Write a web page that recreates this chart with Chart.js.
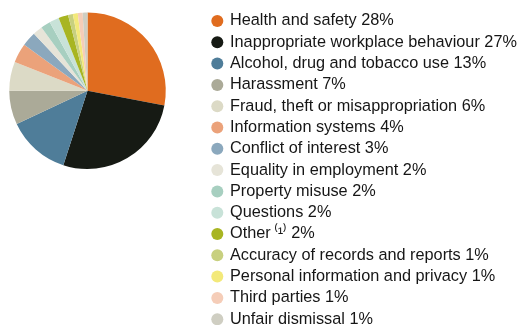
<!DOCTYPE html>
<html>
<head>
<meta charset="utf-8">
<script src="https://cdn.jsdelivr.net/npm/chart.js@4/dist/chart.umd.min.js"></script>
<style>
  html, body { margin: 0; padding: 0; background: #fff; }
  #wrap { width: 522px; height: 325px; position: relative; }
</style>
</head>
<body>
<div id="wrap"><canvas id="casesChart"></canvas></div>
<script>
const categories = [
  'Health and safety',
  'Inappropriate workplace behaviour',
  'Alcohol, drug and tobacco use',
  'Harassment',
  'Fraud, theft or misappropriation',
  'Information systems',
  'Conflict of interest',
  'Equality in employment',
  'Property misuse',
  'Questions',
  'Other\u2009\u207D\u00B9\u207E',
  'Accuracy of records and reports',
  'Personal information and privacy',
  'Third parties',
  'Unfair dismissal'
];
const shares = [28, 27, 13, 7, 6, 4, 3, 2, 2, 2, 2, 1, 1, 1, 1];
const colors = [
  '#e06c1f', '#161a14', '#4f7d99', '#abaa98', '#dcdac6',
  '#eba27a', '#8ba8bd', '#e6e4d8', '#a7cfc0', '#c8e2d8',
  '#a8b522', '#c8d07f', '#f3e97a', '#f5cdb8', '#cfcec2'
];

const labels = categories.map((c, i) => c + ' ' + shares[i] + '%');

// pie sits top-left, legend list to the right of it
const placeParts = {
  id: 'placeParts',
  afterLayout(chart) {
    const area = chart.chartArea;
    area.left = 9;
    area.right = 166;
    area.top = 12.5;
    area.bottom = 169;
    area.width = area.right - area.left;
    area.height = area.bottom - area.top;
    const legend = chart.legend;
    legend.left = 207.75;
    legend.top = 7.85;
    legend.right = chart.width;
    legend.bottom = chart.height + 60;
  }
};

new Chart(document.querySelector('#casesChart'), {
  type: 'pie',
  data: {
    labels: labels,
    datasets: [
      {
        label: 'Cases',
        data: shares,
        backgroundColor: colors,
        borderWidth: 0
      }
    ]
  },
  options: {
    responsive: true,
    maintainAspectRatio: false,
    animation: false,
    layout: { padding: 0 },
    plugins: {
      legend: {
        position: 'right',
        align: 'start',
        labels: {
          usePointStyle: true,
          pointStyle: 'circle',
          boxWidth: 9.1,
          boxHeight: 8.5,
          padding: 5,
          color: '#161616',
          font: { family: '"Liberation Sans", "Noto Sans", Arial, sans-serif', size: 16.3 }
        }
      },
      tooltip: { enabled: false }
    }
  },
  plugins: [placeParts]
});
</script>
</body>
</html>
